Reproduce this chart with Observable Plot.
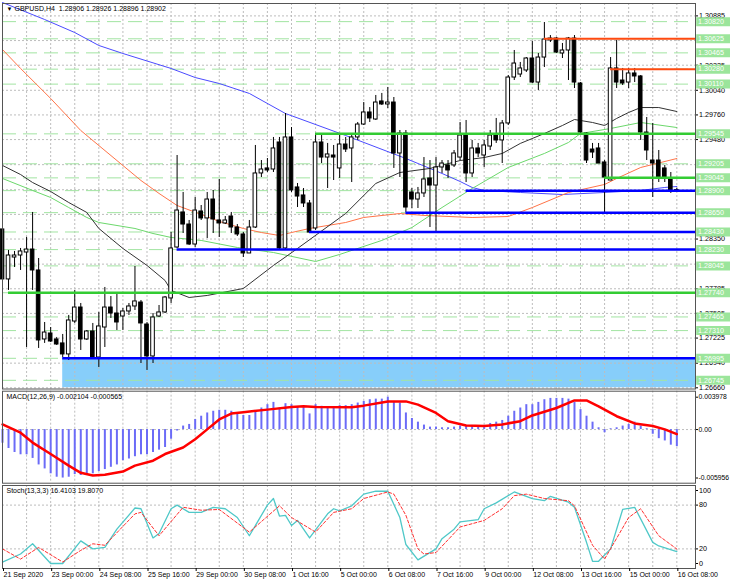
<!DOCTYPE html>
<html><head><meta charset="utf-8">
<script src="https://cdn.jsdelivr.net/npm/d3@7"></script>
<script src="https://cdn.jsdelivr.net/npm/@observablehq/plot@0.6"></script>
<style>
html,body{margin:0;padding:0;background:#fff;}
#chart{position:relative;width:730px;height:584px;background:#fff;overflow:hidden;}
#chart svg{position:absolute;left:0;}
</style></head><body><div id="chart"></div>
<script>
// ---------- DATA (4h bars, index 0 = 21 Sep 2020 16:00) ----------
const symbolName = "GBPUSD,H4";
const opens = [1.28459,1.27891,1.28140,1.28163,1.28197,1.28231,1.27993,1.27209,1.27277,1.27209,
1.27164,1.27039,1.27413,1.27572,1.27209,1.27300,1.27004,1.27345,1.27572,1.27504,
1.27470,1.27527,1.27584,1.27629,1.27379,1.27016,1.27470,1.27516,1.27675,1.28254,
1.28652,1.28515,1.28288,1.28663,1.28584,1.28799,1.28561,1.28527,1.28606,1.28481,
1.28402,1.28186,1.28481,1.29095,1.29152,1.29140,1.29447,1.28243,1.29504,1.28936,
1.28845,1.28754,1.28470,1.29447,1.29276,1.29299,1.29152,1.29424,1.29379,1.29504,
1.29651,1.29788,1.29708,1.29913,1.29879,1.29901,1.29322,1.29549,1.28879,1.28799,
1.28868,1.29038,1.28958,1.29163,1.29186,1.29186,1.29276,1.29526,1.29095,1.29379,
1.29299,1.29401,1.29526,1.29470,1.29663,1.30185,1.30219,1.30265,1.30401,1.30128,
1.30412,1.30606,1.30628,1.30458,1.30492,1.30628,1.30117,1.29549,1.29367,1.29379,
1.29220,1.29015,1.30288,1.30151,1.30128,1.30231,1.30197,1.29560,1.29242,1.29242,
1.29152,1.29038,1.28906];
const highs = [1.28493,1.28220,1.28209,1.28243,1.28368,1.28652,1.28129,1.27402,1.27345,1.27232,
1.27266,1.27482,1.27766,1.27618,1.27311,1.27391,1.27516,1.27800,1.27697,1.27732,
1.27561,1.27618,1.28038,1.27652,1.27402,1.27504,1.27595,1.27697,1.28424,1.29299,
1.28879,1.28561,1.28822,1.28731,1.28879,1.28902,1.29027,1.28606,1.28652,1.28515,
1.28424,1.28561,1.29413,1.29242,1.29265,1.29504,1.29504,1.29776,1.29617,1.28981,
1.28924,1.28788,1.29549,1.29526,1.29436,1.29413,1.29549,1.29504,1.29549,1.29674,
1.29901,1.29844,1.29981,1.30004,1.30072,1.29958,1.29583,1.29583,1.28924,1.28936,
1.29276,1.29242,1.29276,1.29242,1.29242,1.29356,1.29674,1.29697,1.29470,1.29436,
1.29470,1.29583,1.29720,1.29697,1.30208,1.30492,1.30356,1.30412,1.30594,1.30458,
1.30810,1.30662,1.30640,1.30572,1.30640,1.30662,1.30128,1.29560,1.29436,1.29436,
1.29242,1.30412,1.30606,1.30288,1.30288,1.30288,1.30208,1.29731,1.29663,1.29356,
1.29186,1.29106,1.28926];
const lows = [1.27788,1.27766,1.28027,1.27993,1.27118,1.27766,1.27107,1.27164,1.27175,1.27141,
1.27004,1.26970,1.27391,1.27084,1.27198,1.27004,1.26891,1.27118,1.27448,1.27311,
1.27311,1.27482,1.27538,1.26936,1.26857,1.26936,1.27459,1.27504,1.27618,1.28243,
1.28413,1.28277,1.28254,1.28561,1.28356,1.28413,1.28368,1.28515,1.28413,1.28379,
1.28140,1.28186,1.28470,1.29049,1.29106,1.29106,1.28220,1.28220,1.28879,1.28708,
1.28708,1.28413,1.28447,1.29208,1.28924,1.29015,1.29038,1.29333,1.28992,1.29470,
1.29640,1.29674,1.29697,1.29867,1.29833,1.29152,1.29049,1.28652,1.28697,1.28697,
1.28822,1.28481,1.28424,1.29095,1.29038,1.29163,1.29242,1.28992,1.29049,1.29276,
1.29163,1.29356,1.29436,1.29208,1.29640,1.30151,1.30185,1.30242,1.30117,1.30038,
1.30299,1.30583,1.30458,1.30401,1.30151,1.30060,1.29549,1.29208,1.29265,1.29208,
1.28640,1.29015,1.30060,1.30094,1.30060,1.30128,1.29470,1.29242,1.28822,1.28992,
1.28992,1.28868,1.28896];
const closes = [1.27891,1.28163,1.28163,1.28209,1.28231,1.27993,1.27198,1.27288,1.27186,1.27152,
1.27039,1.27425,1.27572,1.27209,1.27300,1.27004,1.27357,1.27572,1.27504,1.27402,
1.27527,1.27584,1.27641,1.27391,1.27016,1.27459,1.27516,1.27686,1.28243,1.28674,
1.28515,1.28288,1.28674,1.28584,1.28799,1.28572,1.28527,1.28561,1.28481,1.28402,
1.28186,1.28481,1.29095,1.29140,1.29129,1.29379,1.28243,1.29504,1.28902,1.28833,
1.28754,1.28424,1.29447,1.29276,1.29311,1.29276,1.29424,1.29367,1.29504,1.29651,
1.29788,1.29720,1.29901,1.29879,1.29901,1.29322,1.29549,1.28708,1.28799,1.28868,
1.29027,1.28958,1.29163,1.29208,1.29129,1.29322,1.29526,1.29095,1.29379,1.29322,
1.29413,1.29526,1.29470,1.29663,1.30185,1.30344,1.30288,1.30401,1.30128,1.30412,
1.30617,1.30628,1.30469,1.30492,1.30628,1.30128,1.29560,1.29242,1.29333,1.29208,
1.29049,1.30288,1.30128,1.30117,1.30231,1.30197,1.29560,1.29356,1.29208,1.29049,
1.29049,1.28902,1.28902];

// moving averages (bar index, price)
const blueMaIdx = [0,7,12,16,20,28,32,36,41,47,57,67,71,73,76,78,80,86,93,100,106,110,112];
const blueMaVal = [1.31037,1.30844,1.30696,1.30549,1.30458,1.30288,1.30185,1.30117,1.30004,1.29776,1.29526,1.29265,1.29152,1.29095,1.29004,1.28936,1.28902,1.28879,1.28856,1.28879,1.28902,1.28936,1.28947];
const orangeMaIdx = [0,3,8,13,23,26,29,33,36,40,43,46,48,51,57,60,66,70,78,84,88,94,100,102,106,112];
const orangeMaVal = [1.30503,1.30288,1.29947,1.29583,1.29015,1.28868,1.28731,1.28630,1.28550,1.28470,1.28424,1.28390,1.28424,1.28470,1.28538,1.28595,1.28640,1.28618,1.28595,1.28606,1.28708,1.28879,1.28970,1.29038,1.29163,1.29265];
const blackMaIdx = [0,3,5,8,11,14,16,20,24,27,28,31,34,40,45,49,57,62,66,71,76,80,83,86,90,93,95,98,100,102,104,106,109,112];
const blackMaVal = [1.29186,1.29083,1.28992,1.28890,1.28765,1.28652,1.28470,1.28243,1.28050,1.27879,1.27766,1.27686,1.27709,1.27788,1.28050,1.28243,1.28640,1.28981,1.29106,1.29152,1.29242,1.29276,1.29322,1.29436,1.29549,1.29640,1.29708,1.29674,1.29640,1.29720,1.29788,1.29844,1.29844,1.29799];
const greenMaIdx = [0,5,8,11,14,16,22,25,28,33,39,45,52,56,63,68,73,78,84,90,94,96,101,106,112];
const greenMaVal = [1.29038,1.28902,1.28822,1.28708,1.28595,1.28538,1.28470,1.28413,1.28368,1.28334,1.28254,1.28197,1.28095,1.28175,1.28334,1.28481,1.28708,1.28924,1.29163,1.29322,1.29447,1.29549,1.29606,1.29674,1.29617];

// horizontal levels
const levelPrices = [1.30820,1.30625,1.30465,1.30280,1.30110,1.29545,1.29205,1.29045,1.28900,1.28650,1.28430,1.28230,1.28045,1.27740,1.27465,1.27310,1.26995,1.26745];
const redLevelPrices = [1.30625,1.30280];
const redLevelStart = [90,101];
const greenLevelPrices = [1.29545,1.29045,1.27740];
const greenLevelStart = [52,100,1];
const blueLevelPrices = [1.28900,1.28650,1.28430,1.28230,1.26995];
const blueLevelStart = [77,67,51,29,10];
const zoneTop = 1.26995, zoneStart = 10;

// price axis: grid at every tick; labels only where they are not hidden by a level box
const priceMin = 1.26660, priceMax = 1.31060;
const priceTicks = [1.26660,1.26940,1.27225,1.27505,1.27785,1.28065,1.28350,1.28630,1.28910,1.29195,1.29480,1.29760,1.30040,1.30325,1.30605,1.30885];
const priceTickLabels = [1.26660,1.26940,1.27225,1.27505,1.27785,1.28350,1.29480,1.29760,1.30040,1.30325,1.30885];

// MACD(12,26,9)
const macdMain = [-0.00168,-0.00233,-0.00282,-0.00310,-0.00310,-0.00355,-0.00435,-0.00484,-0.00544,-0.00586,
-0.00596,-0.00586,-0.00553,-0.00565,-0.00556,-0.00544,-0.00516,-0.00492,-0.00464,-0.00435,
-0.00383,-0.00362,-0.00334,-0.00310,-0.00310,-0.00282,-0.00253,-0.00221,-0.00119,-0.00018,
0.00043,0.00063,0.00124,0.00164,0.00204,0.00225,0.00237,0.00237,0.00225,0.00185,
0.00173,0.00173,0.00225,0.00265,0.00306,0.00334,0.00265,0.00318,0.00306,0.00277,
0.00286,0.00192,0.00306,0.00286,0.00277,0.00277,0.00294,0.00294,0.00306,0.00326,
0.00346,0.00367,0.00374,0.00374,0.00398,0.00346,0.00326,0.00204,0.00136,0.00091,
0.00055,0.00030,0.00030,0.00022,0.00022,0.00030,0.00043,0.00051,0.00051,0.00043,
0.00051,0.00075,0.00091,0.00112,0.00164,0.00225,0.00265,0.00306,0.00306,0.00334,
0.00367,0.00383,0.00383,0.00383,0.00374,0.00334,0.00245,0.00164,0.00091,0.00022,
-0.00039,0.00010,0.00022,0.00043,0.00063,0.00091,0.00043,0.00010,-0.00058,-0.00112,
-0.00140,-0.00192,-0.002104];
const macdSignalIdx = [0,3,5,8,11,13,15,17,20,22,25,27,30,32,34,36,38,40,44,48,50,52,58,60,64,67,69,72,74,77,80,83,86,88,92,95,97,99,102,105,108,110,112];
const macdSignalVal = [0.00063,-0.00039,-0.00160,-0.00301,-0.00443,-0.00532,-0.00565,-0.00556,-0.00516,-0.00443,-0.00383,-0.00301,-0.00221,-0.00119,0.00002,0.00124,0.00197,0.00213,0.00245,0.00277,0.00286,0.00277,0.00273,0.00294,0.00346,0.00346,0.00306,0.00204,0.00103,0.00051,0.00043,0.00063,0.00103,0.00173,0.00265,0.00358,0.00358,0.00286,0.00164,0.00075,0.00043,0.00002,-0.000565];
const macdTicks = [0.003978, 0, -0.005956];
const macdTickLabels = ["0.003978", "0.00", "-0.005956"];

// Stochastic(13,3,3)
const stochMainIdx = [0,3,5,8,10,13,15,17,19,22,23,25,26,28,29,31,33,35,37,39,41,44,45,46,47,48,49,51,54,55,56,58,60,62,64,66,67,69,72,73,75,76,78,79,80,82,85,86,88,90,91,94,95,97,98,99,101,103,105,108,109,112];
const stochMainVal = [2,13,27,0,0,31,20,22,47,76,75,35,41,75,80,70,70,77,75,63,38,80,89,65,66,52,59,35,68,75,72,79,95,99,99,63,26,5,20,34,47,57,59,60,75,83,98,95,89,86,92,84,77,29,3,3,20,74,77,29,24,16.4103];
const stochSigIdx = [0,3,6,10,13,15,17,22,23,26,30,33,36,41,46,48,52,55,58,60,64,65,67,69,70,72,76,80,83,85,87,90,94,95,98,100,104,106,109,112];
const stochSigVal = [20,6,22,2,18,27,25,68,70,38,77,73,74,43,79,63,43,70,75,89,98,95,66,20,13,15,50,59,75,93,95,89,86,79,25,6,63,75,38,19.807];
const stochTicks = [0,20,80,100];
const stochLevels = [20,80];

// time axis
const timeTickIdx = [0,8,16,24,32,40,48,56,64,72,80,88,96,104,112];
const timeTickLabels = ["21 Sep 2020","23 Sep 00:00","24 Sep 08:00","25 Sep 16:00","29 Sep 00:00","30 Sep 08:00","1 Oct 16:00","5 Oct 00:00","6 Oct 08:00","7 Oct 16:00","9 Oct 00:00","12 Oct 08:00","13 Oct 16:00","15 Oct 00:00","16 Oct 08:00"];

// ---------- BUILD ----------
const X_AXIS_I = 115.1;   // bar position of the right price axis
const X_EDGE_I = 121;     // right edge of the window in bar units
const FONT = "Liberation Sans, Arial, sans-serif";
const style = {fontFamily: FONT, fontSize: "7px", background: "transparent", overflow: "visible", color: "#000"};
const gridIdx = d3.range(4, 113, 4);
const gridStyle = {stroke: "#bdbdbd", strokeDasharray: "2,2", strokeWidth: 1};

const candles = opens.map((o, i) => ({i, o, h: highs[i], l: lows[i], c: closes[i]}));
const pts = (idx, val) => idx.map((i, k) => ({i, v: val[k]}));
const segs = (prices, starts) => prices.map((p, k) => ({p, s: starts[k]}));
const last = candles[candles.length - 1];
const headerText = `${symbolName}  ${[last.o, last.h, last.l, last.c].map(d => d.toFixed(5)).join(" ")}`;
const macdTitle = `MACD(12,26,9) ${macdMain[macdMain.length-1].toFixed(6)} ${macdSignalVal[macdSignalVal.length-1].toFixed(6)}`;
const stochTitle = `Stoch(13,3,3) ${stochMainVal[stochMainVal.length-1].toFixed(4)} ${stochSigVal[stochSigVal.length-1].toFixed(4)}`;
const macdLabelMap = new Map(macdTicks.map((t, k) => [t, macdTickLabels[k]]));
const timeLabelMap = new Map(timeTickIdx.map((t, k) => [t, timeTickLabels[k]]));

const main = Plot.plot({
  width: 730, height: 389, marginLeft: 2, marginRight: 35, marginTop: 3, marginBottom: 0.5,
  style,
  x: {domain: [0, X_AXIS_I], axis: null},
  y: {domain: [priceMin, priceMax], range: [387.3, 0]},
  marks: [
    Plot.rect([zoneTop], {x1: () => zoneStart, x2: () => X_AXIS_I, y1: () => priceMin, y2: d => d, fill: "#87cefa"}),
    Plot.ruleY(priceTicks, {y: d => d, ...gridStyle}),
    Plot.ruleX(gridIdx, {x: d => d, ...gridStyle}),
    Plot.ruleY(levelPrices, {y: d => d, stroke: "#a2e4a2", strokeWidth: 1, strokeDasharray: "14,7"}),
    Plot.line(pts(blueMaIdx, blueMaVal), {x: "i", y: "v", stroke: "#4b4bff", strokeWidth: 1}),
    Plot.line(pts(orangeMaIdx, orangeMaVal), {x: "i", y: "v", stroke: "#ff7448", strokeWidth: 1}),
    Plot.line(pts(greenMaIdx, greenMaVal), {x: "i", y: "v", stroke: "#6cd86c", strokeWidth: 1}),
    Plot.line(pts(blackMaIdx, blackMaVal), {x: "i", y: "v", stroke: "#333", strokeWidth: 1}),
    Plot.ruleX(candles, {x: "i", y1: "l", y2: "h", stroke: "#000", strokeWidth: 1}),
    Plot.rect(candles, {x1: d => d.i - 0.3, x2: d => d.i + 0.3, y1: "o", y2: "c",
      fill: d => d.c < d.o ? "#000" : "#fff", stroke: "#000", strokeWidth: 1}),
    Plot.ruleY(segs(redLevelPrices, redLevelStart), {y: "p", x1: "s", x2: () => X_AXIS_I, stroke: "#ff4a10", strokeWidth: 2}),
    Plot.ruleY(segs(greenLevelPrices, greenLevelStart), {y: "p", x1: "s", x2: () => X_AXIS_I, stroke: "#33cc33", strokeWidth: 2.5}),
    Plot.ruleY(segs(blueLevelPrices, blueLevelStart), {y: "p", x1: "s", x2: () => X_AXIS_I, stroke: "#0000ff", strokeWidth: 2.5}),
    Plot.frame({stroke: "#555"}),
    Plot.axisY(priceTickLabels, {anchor: "right", tickFormat: d => d.toFixed(5), tickSize: 2, tickPadding: 1.5, fontSize: 7.2, label: null}),
    Plot.ruleY(levelPrices, {y: d => d, x1: () => X_AXIS_I + 0.2, x2: () => X_EDGE_I, stroke: "#9be59b", strokeWidth: 9}),
    Plot.text(levelPrices, {x: () => X_AXIS_I, y: d => d, text: d => d.toFixed(5), textAnchor: "start", dx: 2.5, fill: "#fff", fontSize: 7.2}),
    Plot.text(["\u25BC"], {frameAnchor: "top-left", dx: 4, dy: 3.5, fontSize: 6, textAnchor: "start", fill: "#000"}),
    Plot.text([headerText], {frameAnchor: "top-left", dx: 12, dy: 2.5, fontSize: 7, textAnchor: "start", fill: "#000"})
  ]
});

const macd = Plot.plot({
  width: 730, height: 95, marginLeft: 2, marginRight: 35, marginTop: 1.7, marginBottom: 1.3,
  style,
  x: {domain: [0, X_AXIS_I], axis: null},
  y: {domain: [macdTicks[2], macdTicks[0]], range: [88.5, 7.7]},
  marks: [
    Plot.ruleX(gridIdx, {x: d => d, ...gridStyle}),
    Plot.ruleY([0], {y: d => d, ...gridStyle}),
    Plot.ruleX(macdMain.map((v, i) => ({i, v})), {x: "i", y1: () => 0, y2: "v", stroke: "#6b6bf7", strokeWidth: 2}),
    Plot.line(pts(macdSignalIdx, macdSignalVal), {x: "i", y: "v", stroke: "#ff0000", strokeWidth: 2.5}),
    Plot.frame({stroke: "#555"}),
    Plot.axisY(macdTicks, {anchor: "right", tickFormat: d => macdLabelMap.get(d), tickSize: 2, tickPadding: 1, fontSize: 6.8, label: null}),
    Plot.text([macdTitle], {frameAnchor: "top-left", dx: 4, dy: 3, fontSize: 7, textAnchor: "start", fill: "#000"})
  ]
});

const stoch = Plot.plot({
  width: 730, height: 100, marginLeft: 2, marginRight: 35, marginTop: 1, marginBottom: 16,
  style,
  x: {domain: [0, X_AXIS_I]},
  y: {domain: [0, 100], range: [79, 6]},
  marks: [
    Plot.ruleX(gridIdx, {x: d => d, ...gridStyle}),
    Plot.ruleY(stochLevels, {y: d => d, ...gridStyle}),
    Plot.line(pts(stochMainIdx, stochMainVal), {x: "i", y: "v", stroke: "#4fc8c8", strokeWidth: 1.3}),
    Plot.line(pts(stochSigIdx, stochSigVal), {x: "i", y: "v", stroke: "#ff3030", strokeWidth: 1, strokeDasharray: "3,2"}),
    Plot.frame({stroke: "#555"}),
    Plot.axisY(stochTicks, {anchor: "right", tickSize: 2, tickPadding: 1.5, fontSize: 7.2, label: null}),
    Plot.axisX(timeTickIdx, {anchor: "bottom", tickFormat: d => timeLabelMap.get(d), textAnchor: "start", dx: 1, tickSize: 3, tickPadding: 1, fontSize: 7, label: null}),
    Plot.text([stochTitle], {frameAnchor: "top-left", dx: 4, dy: 3, fontSize: 7, textAnchor: "start", fill: "#000"})
  ]
});

const chart = document.getElementById("chart");
[[main, 0], [macd, 389], [stoch, 484]].forEach(([el, top]) => {
  el.style.top = top + "px";
  chart.appendChild(el);
});
</script>
</body></html>
